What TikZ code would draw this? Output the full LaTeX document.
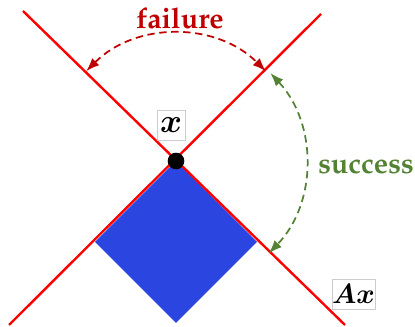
\documentclass[tikz,border=0pt]{standalone}
\usepackage{fix-cm}
\usepackage[T1]{fontenc}
\usepackage{amsmath,amssymb,bm}
\usetikzlibrary{arrows.meta}
\definecolor{lRed}{RGB}{255,0,0}
\definecolor{dRed}{RGB}{192,0,0}
\definecolor{dGreen}{RGB}{84,130,53}
\definecolor{sqBlue}{RGB}{43,69,224}

\begin{document}
\begin{tikzpicture}[x=0.75pt,y=0.75pt,
  ln/.style={lRed,line width=1.8pt},
  arr/.style={{Latex[length=10pt,width=7.5pt]}-{Latex[length=10pt,width=7.5pt]},line width=1.3pt,dash pattern=on 5.5pt off 3.5pt},
  lab/.style={font=\fontsize{21.5}{26}\fontfamily{ppl}\bfseries\selectfont},
  box/.style={draw=gray!40,line width=0.4pt,inner sep=0pt,minimum height=22.5pt}]
  \useasboundingbox (-176,-166) rectangle (239,161);
  % corners of the feasible square and ends of the two lines
  \coordinate (sqL) at (-81,-81); \coordinate (sqB) at (0,-162); \coordinate (sqR) at (81,-81);
  \coordinate (tl) at (-153,150); \coordinate (br) at (169,-164);
  \coordinate (tr) at (145,147);  \coordinate (bl) at (-167,-164);
  \fill[sqBlue] (0,0) -- (sqL) -- (sqB) -- (sqR) -- cycle;
  \draw[ln] (tl) -- (br);
  \draw[ln] (bl) -- (tr);
  \node[circle,fill=black,inner sep=0pt,minimum size=12.5pt] (o) at (0,0) {};
  % arcs
  \coordinate (f1) at (135:127); \coordinate (s1) at (43:129);
  \draw[arr,dRed] (f1) arc[start angle=135,end angle=45,radius=127];
  \draw[arr,dGreen] (s1) arc[start angle=43,end angle=-44,radius=131];
  \node[lab,dRed] (fail) at (4,143) {failure};
  \node[lab,dGreen] (succ) at (190,-6) {success};
  \node[box,minimum width=21pt,font=\fontsize{25}{30}\selectfont] (xl) at (-5,36) {$\boldsymbol{x}$};
  \node[box,minimum width=31pt,font=\fontsize{21}{25}\selectfont] (axl) at (177.5,-133) {$\boldsymbol{Ax}$};
\end{tikzpicture}
\end{document}
